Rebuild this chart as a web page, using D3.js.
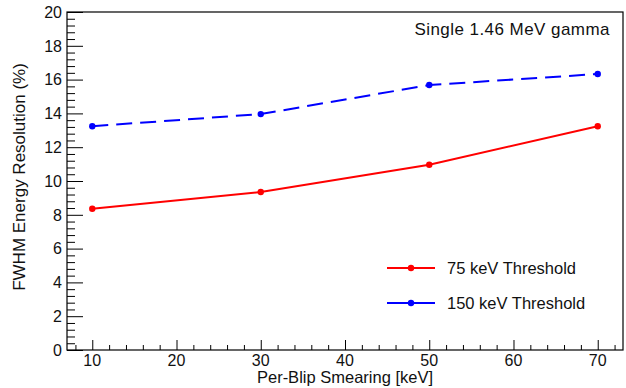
<!DOCTYPE html>
<html>
<head>
<meta charset="utf-8">
<script src="https://cdn.jsdelivr.net/npm/d3@7"></script>
<style>
  html, body { margin: 0; padding: 0; background: #fff; }
  svg { display: block; font-family: "Liberation Sans", Arial, Helvetica, sans-serif; fill: #111; }
</style>
</head>
<body>
<svg id="chart" width="626" height="388"></svg>
<script>
// Smearing values per blip (keV)
const smearing = [10, 30, 50, 70];
// FWHM energy resolution (%) for each threshold
const res75 = [8.36, 9.35, 10.96, 13.24];
const res150 = [13.24, 13.96, 15.68, 16.33];
const seriesNames = ["75 keV Threshold", "150 keV Threshold"];
const xTicks = [10, 20, 30, 40, 50, 60, 70];
const yTicks = [0, 2, 4, 6, 8, 10, 12, 14, 16, 18, 20];

const svg = d3.select("#chart");
const plotL = 67, plotR = 623, plotT = 12, plotB = 350;

const x = d3.scaleLinear().domain([7, 73]).range([plotL, plotR]);
const y = d3.scaleLinear().domain([0, 20]).range([plotB, plotT]);

// frame
svg.append("rect")
  .attr("x", plotL).attr("y", plotT)
  .attr("width", plotR - plotL).attr("height", plotB - plotT)
  .attr("fill", "none").attr("stroke", "#000").attr("stroke-width", 1.2);

// y axis: majors every 2, minors every 0.4
const yMinor = d3.range(0, 20.001, 0.4).filter(v => Math.abs(v / 2 - Math.round(v / 2)) > 1e-6);
svg.append("g").attr("transform", `translate(${plotL},0)`)
  .call(d3.axisRight(y).tickValues(yMinor).tickSize(8).tickFormat(""))
  .call(g => g.select(".domain").remove())
  .call(g => g.selectAll("line").attr("stroke", "#000"));
svg.append("g").attr("transform", `translate(${plotL},0)`)
  .call(d3.axisRight(y).tickValues(yTicks).tickSize(16).tickFormat(""))
  .call(g => g.select(".domain").remove())
  .call(g => g.selectAll("line").attr("stroke", "#000"));
svg.append("g").selectAll("text").data(yTicks).join("text")
  .attr("x", plotL - 5).attr("y", d => y(d)).attr("dy", "0.36em")
  .attr("text-anchor", "end").attr("font-size", 16).text(d => d);

// x axis: majors every 10, minors every 2
const xMinor = d3.range(8, 73, 2).filter(v => v % 10 !== 0);
svg.append("g").attr("transform", `translate(0,${plotB})`)
  .call(d3.axisTop(x).tickValues(xMinor).tickSize(5).tickFormat(""))
  .call(g => g.select(".domain").remove())
  .call(g => g.selectAll("line").attr("stroke", "#000"));
svg.append("g").attr("transform", `translate(0,${plotB})`)
  .call(d3.axisTop(x).tickValues(xTicks).tickSize(10).tickFormat(""))
  .call(g => g.select(".domain").remove())
  .call(g => g.selectAll("line").attr("stroke", "#000"));
svg.append("g").selectAll("text").data(xTicks).join("text")
  .attr("x", d => x(d)).attr("y", plotB + 15.5)
  .attr("text-anchor", "middle").attr("font-size", 16).text(d => d);

// axis titles
svg.append("text").attr("x", 345).attr("y", 383)
  .attr("text-anchor", "middle").attr("font-size", 16.5).text("Per-Blip Smearing [keV]");
svg.append("text").attr("transform", "translate(25,177) rotate(-90)")
  .attr("text-anchor", "middle").attr("font-size", 17).text("FWHM Energy Resolution (%)");

// title text
svg.append("text").attr("x", 610).attr("y", 35)
  .attr("text-anchor", "end").attr("font-size", 17).attr("letter-spacing", 0.45)
  .text("Single 1.46 MeV gamma");

const line = d3.line().x((d, i) => x(smearing[i])).y(d => y(d));
const series = [
  { values: res75, color: "#ff0000", dash: null, name: seriesNames[0] },
  { values: res150, color: "#0000ff", dash: "16,8", name: seriesNames[1] }
];

series.forEach(s => {
  svg.append("path").datum(s.values)
    .attr("d", line).attr("fill", "none")
    .attr("stroke", s.color).attr("stroke-width", 2)
    .attr("stroke-dasharray", s.dash);
  svg.append("g").selectAll("circle").data(s.values).join("circle")
    .attr("cx", (d, i) => x(smearing[i])).attr("cy", d => y(d))
    .attr("r", 3.2).attr("fill", s.color);
});

// legend
const legY = [268, 303];
series.forEach((s, i) => {
  const g = svg.append("g");
  g.append("line").attr("x1", 387).attr("x2", 435)
    .attr("y1", legY[i]).attr("y2", legY[i])
    .attr("stroke", s.color).attr("stroke-width", 2);
  g.append("circle").attr("cx", 411).attr("cy", legY[i]).attr("r", 3.2).attr("fill", s.color);
  g.append("text").attr("x", 447).attr("y", legY[i]).attr("dy", "0.36em")
    .attr("font-size", 16.5).text(s.name);
});
</script>
</body>
</html>
